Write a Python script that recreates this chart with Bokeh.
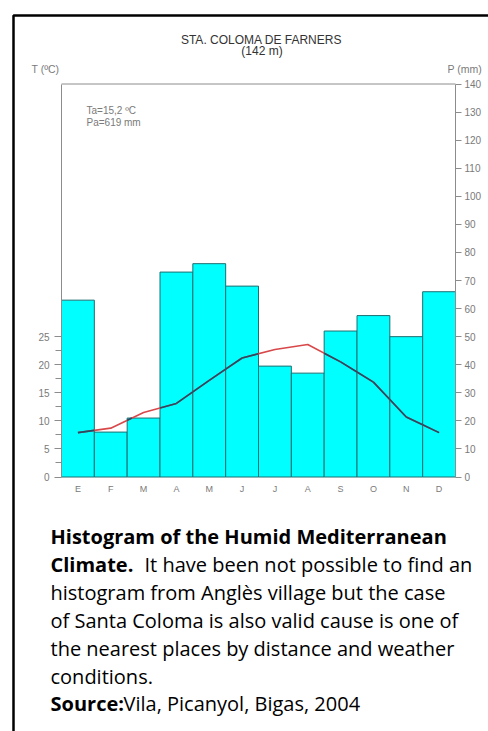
from bokeh.plotting import figure
from bokeh.models import Range1d, LinearAxis, FixedTicker, Label, BoxAnnotation
from bokeh.embed import file_html
from bokeh.resources import INLINE

# ---------------- data ----------------
months = ["E", "F", "M", "A", "M", "J", "J", "A", "S", "O", "N", "D"]
precip = [63, 16, 21, 73, 76, 68, 39.5, 37, 52, 57.5, 50, 66]          # mm
temp = [7.9, 8.7, 11.5, 13.1, 17.2, 21.2, 22.7, 23.6, 20.5, 16.9, 10.7, 7.9]  # ºC
t_ticks = [0, 5, 10, 15, 20, 25]
t_minor = [2.5, 7.5, 12.5, 17.5, 22.5]
p_ticks = [0, 10, 20, 30, 40, 50, 60, 70, 80, 90, 100, 110, 120, 130, 140]
title_lines = ["STA. COLOMA DE FARNERS", "(142 m)"]
stats_lines = ["Ta=15,2 ºC", "Pa=619 mm"]
t_label = "T (ºC)"
p_label = "P (mm)"
caption = [
    ("Histogram of the Humid Mediterranean", ""),
    ("Climate.", "It have been not possible to find an"),
    ("", "histogram from Anglès village but the case"),
    ("", "of Santa Coloma is also valid cause is one of"),
    ("", "the nearest places by distance and weather"),
    ("", "conditions."),
    ("Source:", "Vila, Picanyol, Bigas, 2004"),
]

# ---------------- geometry (canvas pixels) ----------------
W, H = 488, 731
AX_L, AX_R = 61, 455        # left / right axis x
Y0, Y_TOP = 476.5, 83.5      # y of P=0 and P=140
n = len(months)
ppm_x = (AX_R - AX_L) / n                 # pixels per month
ppm_y = (Y0 - Y_TOP) / p_ticks[-1]        # pixels per mm
x_start = 0.5 - AX_L / ppm_x
x_end = 0.5 + (W - AX_L) / ppm_x
p_start = -(H - Y0) / ppm_y
p_end = Y0 / ppm_y

p = figure(width=W, height=H, x_range=Range1d(x_start, x_end),
           y_range=Range1d(p_start / 2, p_end / 2),
           output_backend="svg", toolbar_location=None,
           x_axis_location=None, y_axis_location=None,
           min_border=0, min_border_left=0, min_border_right=0,
           min_border_top=0, min_border_bottom=0)
p.extra_y_ranges = {"P": Range1d(p_start, p_end)}
p.outline_line_color = None
p.xgrid.visible = False
p.ygrid.visible = False
p.background_fill_color = "white"
p.border_fill_color = "white"

GRAY = "#7a7a7a"
AXC = "#8c8c8c"
FONT = "Liberation Sans"

# left T axis
ya = LinearAxis(fixed_location=0.5, bounds=(0, p_ticks[-1] / 2),
                ticker=FixedTicker(ticks=t_ticks, minor_ticks=t_minor))
ya.axis_line_color = AXC
ya.major_tick_line_color = AXC
ya.minor_tick_line_color = AXC
ya.major_tick_in = 0
ya.major_tick_out = 7
ya.minor_tick_in = 0
ya.minor_tick_out = 6
ya.major_label_standoff = 5
ya.major_label_text_font = FONT
ya.major_label_text_font_size = "10px"
ya.major_label_text_color = GRAY
p.add_layout(ya, "left")

# bottom month axis
xa = LinearAxis(fixed_location=0, ticker=FixedTicker(ticks=list(range(1, n + 1)), minor_ticks=[]))
xa.major_label_overrides = {i + 1: m for i, m in enumerate(months)}
xa.axis_line_color = None
xa.major_tick_line_color = None
xa.minor_tick_line_color = None
xa.major_tick_in = 0
xa.major_tick_out = 0
xa.major_label_standoff = 7
xa.major_label_text_font = FONT
xa.major_label_text_font_size = "9px"
xa.major_label_text_color = GRAY
p.add_layout(xa, "below")

# right P axis placed at the end of the last bar
pa = LinearAxis(y_range_name="P", fixed_location=n + 0.5, bounds=(0, p_ticks[-1]),
                ticker=FixedTicker(ticks=p_ticks, minor_ticks=[]))
pa.axis_line_color = AXC
pa.major_tick_line_color = AXC
pa.major_tick_in = 0
pa.major_tick_out = 6
pa.major_label_standoff = 3
pa.major_label_text_font = FONT
pa.major_label_text_font_size = "10px"
pa.major_label_text_color = GRAY
p.add_layout(pa, "right")

# bars
xs = list(range(1, n + 1))
p.vbar(x=xs, top=precip, width=1, bottom=0, y_range_name="P",
       fill_color="#00ffff", line_color="#1f6e70", line_width=1)

# top box line
p.line([0.5, n + 0.5], [p_ticks[-1], p_ticks[-1]], y_range_name="P",
       line_color=AXC, line_width=1)

# temperature line: red where above bars, dark where inside bars
p.line(xs, temp, line_color="#d8484a", line_width=1.6)

heights = [v / 2 for v in precip]
dark_x, dark_y = [], []
for k in range(n - 1):
    x0, y0, x1, y1 = xs[k], temp[k], xs[k + 1], temp[k + 1]
    xm = (x0 + x1) / 2
    for a, b, h in ((x0, xm, heights[k]), (xm, x1, heights[k + 1])):
        ya_ = y0 + (y1 - y0) * (a - x0) / (x1 - x0)
        yb_ = y0 + (y1 - y0) * (b - x0) / (x1 - x0)
        if ya_ <= h and yb_ <= h:
            dark_x.append([a, b]); dark_y.append([ya_, yb_])
        elif ya_ <= h < yb_ or yb_ <= h < ya_:
            t = (h - ya_) / (yb_ - ya_)
            xc = a + (b - a) * t
            if ya_ <= h:
                dark_x.append([a, xc]); dark_y.append([ya_, h])
            else:
                dark_x.append([xc, b]); dark_y.append([h, yb_])
p.multi_line(dark_x, dark_y, line_color="#214d66", line_width=1.6)


def lab(text, px, py, size, color, align="left", style="normal", font=FONT):
    # px, py: canvas position (py = baseline, measured from the top)
    return Label(x=px, y=H - py, x_units="screen", y_units="screen", text=text,
                 text_font=font, text_font_size=size, text_color=color,
                 text_align=align, text_baseline="alphabetic", text_font_style=style)


# outer black frame
p.add_layout(BoxAnnotation(left=13, right=W + 50, top=H - 15, bottom=-50,
                           left_units="screen", right_units="screen",
                           top_units="screen", bottom_units="screen",
                           fill_alpha=0, line_color="black", line_alpha=1, line_width=2.5))

p.add_layout(lab(title_lines[0], 261, 39, "12px", "#333333", "center"))
p.add_layout(lab(title_lines[1], 261.5, 50, "12px", "#333333", "center"))
p.add_layout(lab(t_label, 31, 68, "10.5px", GRAY))
p.add_layout(lab(p_label, 447, 68, "10.5px", GRAY))
p.add_layout(lab(stats_lines[0], 86, 110, "10px", GRAY))
p.add_layout(lab(stats_lines[1], 86, 122, "10px", GRAY))

CAP_FONT = "Open Sans"
CAP_SIZE = "20px"
base = 536
pitch = 27.9
for i, (bold, normal) in enumerate(caption):
    yb = base + i * pitch
    if bold:
        p.add_layout(lab(bold, 50, yb, CAP_SIZE, "black", style="bold", font=CAP_FONT))
    if normal:
        xstart = 50 if not bold else (144 if bold.startswith("Climate") else 123)
        p.add_layout(lab(normal, xstart, yb, CAP_SIZE, "black", font=CAP_FONT))

open("out.html", "w").write(file_html(p, INLINE))
